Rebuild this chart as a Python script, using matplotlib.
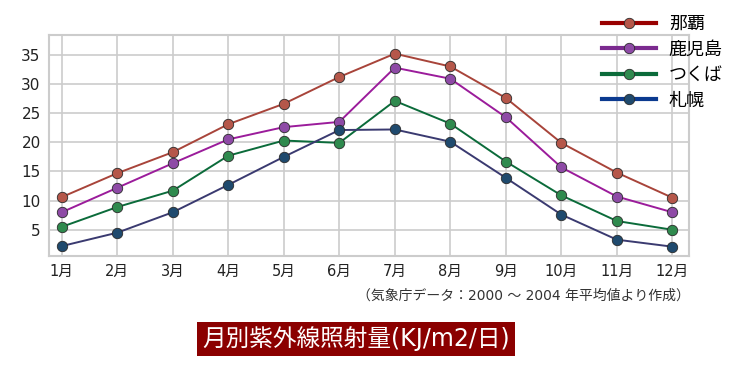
import matplotlib
matplotlib.use("Agg")
import matplotlib.pyplot as plt
from matplotlib.lines import Line2D

plt.rcParams['font.family'] = ['DejaVu Sans', 'Noto Sans CJK JP']

months = ["1月", "2月", "3月", "4月", "5月", "6月", "7月", "8月", "9月", "10月", "11月", "12月"]
naha = [10.6, 14.7, 18.3, 23.1, 26.6, 31.2, 35.2, 33.0, 27.6, 19.9, 14.8, 10.5]
kagoshima = [8.0, 12.2, 16.4, 20.5, 22.6, 23.5, 32.8, 30.9, 24.3, 15.7, 10.7, 8.0]
tsukuba = [5.5, 8.9, 11.7, 17.7, 20.3, 19.9, 27.1, 23.2, 16.7, 10.9, 6.5, 5.0]
sapporo = [2.2, 4.5, 8.0, 12.7, 17.5, 22.1, 22.2, 20.1, 13.9, 7.6, 3.3, 2.1]
yticks = [5, 10, 15, 20, 25, 30, 35]

# (label, values, chart line colour, legend line colour, marker face)
series = [
    ("那覇", naha, "#a8443a", "#990000", "#b5574a"),
    ("鹿児島", kagoshima, "#9b1c9b", "#7b2a8f", "#8e4aa6"),
    ("つくば", tsukuba, "#0b6b3a", "#0b6b3a", "#2f8a4e"),
    ("札幌", sapporo, "#3a3a70", "#0b3a8f", "#1f4a6e"),
]

fig = plt.figure(figsize=(7.4, 3.72), dpi=100)
ax = fig.add_axes([49 / 740, 116 / 372, 640 / 740, 221 / 372])

x = list(range(len(months)))
handles = []
for label, vals, lc, legc, mc in series:
    ax.plot(x, vals, color=lc, lw=1.4, marker="o", ms=7.5,
            markerfacecolor=mc, markeredgecolor="#2a2a2a", markeredgewidth=0.6, zorder=3)
    handles.append(Line2D([0], [0], color=legc, lw=3, marker="o", ms=7.5,
                          markerfacecolor=mc, markeredgecolor="#2a2a2a", markeredgewidth=0.6))

ax.set_xlim(-0.23, 11.3)
ax.set_ylim(0.5, 38.4)
ax.set_xticks(x)
ax.set_xticklabels(months, fontsize=10.5, color="#222222")
ax.set_yticks(yticks)
ax.set_yticklabels([str(v) for v in yticks], fontsize=11, color="#222222")
ax.tick_params(length=0, pad=6)
ax.grid(True, color="#cccccc", lw=1.2)
ax.set_axisbelow(True)
for sp in ax.spines.values():
    sp.set_color("#cccccc")
    sp.set_linewidth(1.5)

fig.legend(handles, [s[0] for s in series], loc="upper left",
           bbox_to_anchor=(602 / 740, 1 - 15 / 372), frameon=False,
           fontsize=13, handlelength=3.0, labelspacing=0.42, handletextpad=0.7,
           borderpad=0, borderaxespad=0)

fig.text(690 / 740, 1 - 296 / 372, "（気象庁データ：2000 ～ 2004 年平均値より作成）",
         ha="right", va="center", fontsize=10, color="#333333")

fig.text(356 / 740, 1 - 339 / 372, "月別紫外線照射量(KJ/m2/日)",
         ha="center", va="center", fontsize=17, color="white",
         bbox=dict(boxstyle="square,pad=0.2", facecolor="#8b0000", edgecolor="none"))

fig.savefig("out.png", dpi=100)
